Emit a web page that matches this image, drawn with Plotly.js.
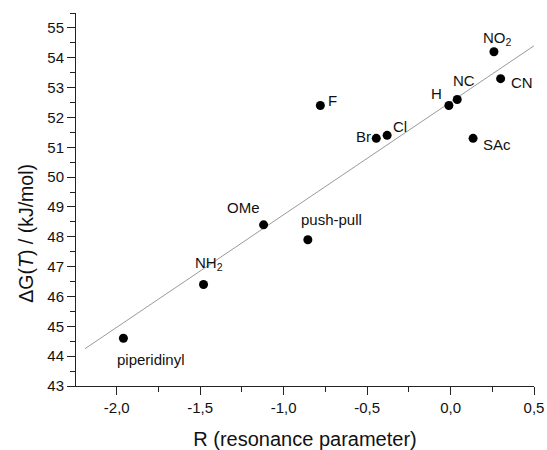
<!DOCTYPE html>
<html>
<head>
<meta charset="utf-8">
<script src="https://cdn.plot.ly/plotly-3.0.1.min.js"></script>
<style>html,body{margin:0;padding:0;background:#fff;}#chart{width:547px;height:450px;}</style>
</head>
<body>
<div id="chart"></div>
<script>
// Data
const substituents = ["piperidinyl", "NH<sub>2</sub>", "OMe", "push-pull", "F", "Br", "Cl", "H", "NC", "NO<sub>2</sub>", "CN", "SAc"];
const resonanceR = [-1.96, -1.48, -1.12, -0.855, -0.78, -0.445, -0.38, -0.01, 0.04, 0.26, 0.30, 0.135];
const deltaG = [44.6, 46.4, 48.4, 47.9, 52.4, 51.3, 51.4, 52.4, 52.6, 54.2, 53.3, 51.3];
const fitX = [-2.19, 0.5];
const fitY = [44.25, 54.4];
const xTickVals = [-2.0, -1.5, -1.0, -0.5, 0.0, 0.5];
const xTickText = ["-2,0", "-1,5", "-1,0", "-0,5", "0,0", "0,5"];
const yTickVals = [43, 44, 45, 46, 47, 48, 49, 50, 51, 52, 53, 54, 55];
const xTitle = "R (resonance parameter)";
const yTitle = "ΔG(<i>T</i>) / (kJ/mol)";

// label offsets in pixels (style only)
const labelDX = [28, 5, -20, 24, 12, -13, 13, -12, 7, 4, 21, 24];
const labelDY = [-21, 21, 17, 20, 5, 2, 9, 12, 19, 13, -4, -6];

const FONT = "Liberation Sans, Arial, sans-serif";

const traces = [
  {x: fitX, y: fitY, mode: "lines", line: {color: "#9a9a9a", width: 1}, hoverinfo: "skip"},
  {x: resonanceR, y: deltaG, mode: "markers", marker: {color: "#000", size: 9}}
];

const annotations = substituents.map((s, i) => ({
  x: resonanceR[i], y: deltaG[i], text: s, showarrow: false,
  xanchor: "center", yanchor: "middle",
  xshift: labelDX[i], yshift: labelDY[i],
  font: {family: FONT, size: 15, color: "#111"}
}));

annotations.push({
  xref: "paper", yref: "paper", x: -0.11, y: 0.41,
  text: yTitle, textangle: -90, showarrow: false,
  xanchor: "center", yanchor: "middle",
  font: {family: FONT, size: 19.5, color: "#111"}
});

const layout = {
  width: 547, height: 450,
  margin: {l: 76, r: 13, t: 13, b: 64},
  paper_bgcolor: "#fff", plot_bgcolor: "#fff",
  showlegend: false,
  font: {family: FONT, size: 15, color: "#111"},
  xaxis: {
    range: [-2.244, 0.5],
    tickvals: xTickVals, ticktext: xTickText,
    ticks: "outside", ticklen: 8, tickwidth: 1, tickcolor: "#222",
    minor: {dtick: 0.25, tick0: 0, ticks: "outside", ticklen: 5, tickcolor: "#222"},
    showgrid: false, zeroline: false,
    showline: true, linecolor: "#222", linewidth: 1,
    tickfont: {family: FONT, size: 15, color: "#111"},
    title: {text: xTitle, font: {family: FONT, size: 20, color: "#111"}, standoff: 16}
  },
  yaxis: {
    range: [43, 55.5],
    tickvals: yTickVals,
    ticks: "outside", ticklen: 8, tickwidth: 1, tickcolor: "#222",
    minor: {dtick: 0.5, tick0: 0, ticks: "outside", ticklen: 5, tickcolor: "#222"},
    showgrid: false, zeroline: false,
    showline: true, linecolor: "#222", linewidth: 1,
    tickfont: {family: FONT, size: 15, color: "#111"}
  },
  annotations: annotations
};

Plotly.newPlot("chart", traces, layout, {displayModeBar: false, staticPlot: true});
</script>
</body>
</html>
